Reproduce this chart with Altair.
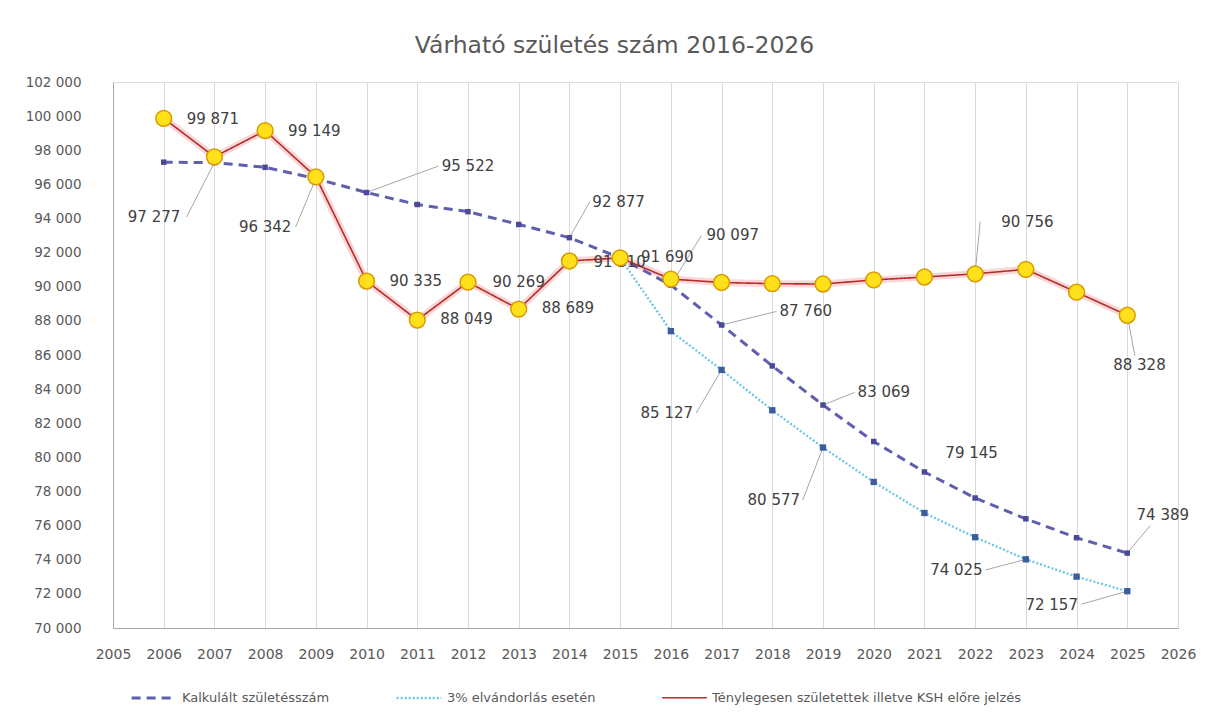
import altair as alt
import pandas as pd

# ---------------- data ----------------
years = list(range(2006, 2026))
actual = [99871, 97613, 99149, 96442, 90335, 88049, 90269, 88689, 91510, 91690,
          90450, 90250, 90180, 90160, 90400, 90570, 90756, 91020, 89680, 88328]
calc = [97300, 97277, 97000, 96342, 95522, 94820, 94400, 93650, 92877, 91690,
        90097, 87760, 85360, 83069, 80930, 79145, 77620, 76400, 75290, 74389]
mig_years = list(range(2015, 2026))
mig = [91690, 87400, 85127, 82760, 80577, 78560, 76740, 75320, 74025, 73010, 72157]

series_names = ["Kalkulált születésszám", "3% elvándorlás esetén",
                "Ténylegesen születettek illetve KSH előre jelzés"]
x_ticks = list(range(2005, 2027))
y_ticks = list(range(70000, 102001, 2000))
title_text = "Várható születés szám 2016-2026"

# which points carry a value label: (series index, year)
label_refs = [(0, 2007), (0, 2009), (0, 2010), (0, 2014), (0, 2016), (0, 2017),
              (0, 2019), (0, 2021), (0, 2025),
              (1, 2017), (1, 2019), (1, 2023), (1, 2025),
              (2, 2006), (2, 2008), (2, 2010), (2, 2011), (2, 2012), (2, 2013),
              (2, 2014), (2, 2015), (2, 2022), (2, 2025)]
# label placement (annotation layout, in axis units): centre x, centre y, leader start or None
label_place = [(2005.81, 94090, (2006.45, 94090)), (2008.0, 93500, (2008.6, 93500)),
               (2012.0, 97078, (2011.42, 97078)), (2014.97, 94968, (2014.4, 94968)),
               (2017.22, 93034, (2016.6, 93000)), (2018.66, 88600, (2018.08, 88550)),
               (2020.2, 83850, (2019.62, 83800)), (2021.93, 80280, None),
               (2025.7, 76626, (2025.45, 76000)),
               (2015.92, 82600, (2016.5, 82600)), (2018.03, 77500, (2018.6, 77500)),
               (2021.63, 73400, (2022.2, 73400)), (2023.51, 71350, (2024.1, 71400)),
               (2006.97, 99830, None), (2008.97, 99128, None), (2010.97, 90339, None),
               (2011.97, 88110, None), (2013.0, 90280, None), (2013.97, 88756, None),
               (2014.99, 91452, None), (2015.93, 91745, None),
               (2023.03, 93815, (2022.1, 93815)), (2025.24, 85416, (2025.15, 85950))]

# ---------------- tables ----------------
rows = []
for y, v in zip(years, calc):
    rows.append({"year": y, "value": v, "series": series_names[0]})
for y, v in zip(mig_years, mig):
    rows.append({"year": y, "value": v, "series": series_names[1]})
for y, v in zip(years, actual):
    rows.append({"year": y, "value": v, "series": series_names[2]})
df = pd.DataFrame(rows)

lookup = {0: dict(zip(years, calc)), 1: dict(zip(mig_years, mig)), 2: dict(zip(years, actual))}
lab_rows, lead_rows = [], []
for (si, yr), (lx, ly, start) in zip(label_refs, label_place):
    v = lookup[si][yr]
    lab_rows.append({"lx": lx, "ly": ly, "value": v, "behind": (si == 2 and yr == 2014)})
    if start is not None:
        lead_rows.append({"sx": start[0], "sy": start[1], "ex": yr, "ey": v})
labels = pd.DataFrame(lab_rows)
leaders = pd.DataFrame(lead_rows)

FONT = "DejaVu Sans"
xscale = alt.Scale(domain=[2005, 2026], nice=False, zero=False)
yscale = alt.Scale(domain=[70000, 102000], nice=False, zero=False)

x_axis = alt.Axis(
    values=x_ticks, format="d", title=None, grid=True, gridColor="#d9d9d9",
    ticks=False, labelPadding=19, labelFontSize=14, labelColor="#595959",
    labelFont=FONT, domainColor="#a6a6a6", labelFlush=False, labelOverlap=False)
y_axis = alt.Axis(
    values=y_ticks, title=None, grid=False, ticks=False, labelPadding=32,
    labelFontSize=13.5, labelColor="#595959", labelFont=FONT,
    domainColor="#a6a6a6", labelOverlap=False,
    labelExpr="replace(format(datum.value, ','), ',', ' ')")

X = alt.X("year:Q", scale=xscale, axis=x_axis)
Y = alt.Y("value:Q", scale=yscale, axis=y_axis)

base = alt.Chart(df)

glow = base.transform_filter(alt.datum.series == series_names[2]).mark_line(
    color="#f2a6a6", strokeWidth=7, opacity=0.45).encode(x=X, y=Y)

leg = alt.Legend(title=None, orient="none", legendX=17, legendY=592,
                 direction="horizontal", symbolType="stroke", symbolSize=2000,
                 symbolStrokeWidth=3, labelFont=FONT, labelFontSize=13,
                 labelColor="#595959", columnPadding=62, labelLimit=600)

lines = base.mark_line().encode(
    x=X, y=Y,
    color=alt.Color("series:N", scale=alt.Scale(
        domain=series_names, range=["#5f5fae", "#6cc6e4", "#b52d2b"]), legend=leg),
    strokeDash=alt.StrokeDash("series:N", scale=alt.Scale(
        domain=series_names, range=[[9, 6], [2, 2], [1, 0]]), legend=leg),
    strokeWidth=alt.StrokeWidth("series:N", scale=alt.Scale(
        domain=series_names, range=[3, 1.6, 2.6]), legend=None),
)

lead = alt.Chart(leaders).mark_rule(color="#a6a6a6", strokeWidth=1).encode(
    x=alt.X("sx:Q", scale=xscale, axis=x_axis), y=alt.Y("sy:Q", scale=yscale, axis=y_axis),
    x2="ex:Q", y2="ey:Q")

calc_pts = base.transform_filter(alt.datum.series == series_names[0]).mark_point(
    shape="square", filled=True, size=30, color="#4a4a98", opacity=1).encode(x=X, y=Y)
mig_pts = base.transform_filter(alt.datum.series == series_names[1]).mark_point(
    shape="square", filled=True, size=40, color="#3d5c9c", opacity=1).encode(x=X, y=Y)
act_pts = base.transform_filter(alt.datum.series == series_names[2]).mark_point(
    shape="circle", filled=True, size=250, fill="#ffe01a", stroke="#d99a00",
    strokeWidth=1.5, opacity=1).encode(x=X, y=Y)

def text_layer(behind):
    return alt.Chart(labels).transform_filter(
        alt.datum.behind == behind).transform_calculate(
        txt="replace(format(datum.value, ','), ',', ' ')").mark_text(
        font=FONT, fontSize=15, color="#404040", align="center",
        baseline="middle").encode(
        x=alt.X("lx:Q", scale=xscale, axis=x_axis),
        y=alt.Y("ly:Q", scale=yscale, axis=y_axis),
        text="txt:N")

chart = alt.layer(
    lead, glow, lines, calc_pts, mig_pts, text_layer(True), act_pts, text_layer(False)
).resolve_axis(x="shared", y="shared").properties(
    width=1065, height=546,
    title=alt.TitleParams(title_text, font=FONT, fontSize=23.5, fontWeight="normal",
                          color="#595959", anchor="middle", dx=-31, offset=18),
    autosize=alt.AutoSizeParams(type="none"),
    padding={"left": 105, "top": 74, "right": 25, "bottom": 88},
).configure_view(stroke="#c5d9ec", strokeWidth=1).configure(background="white")

chart.save("out.html", embed_options={"renderer": "svg", "actions": False})
